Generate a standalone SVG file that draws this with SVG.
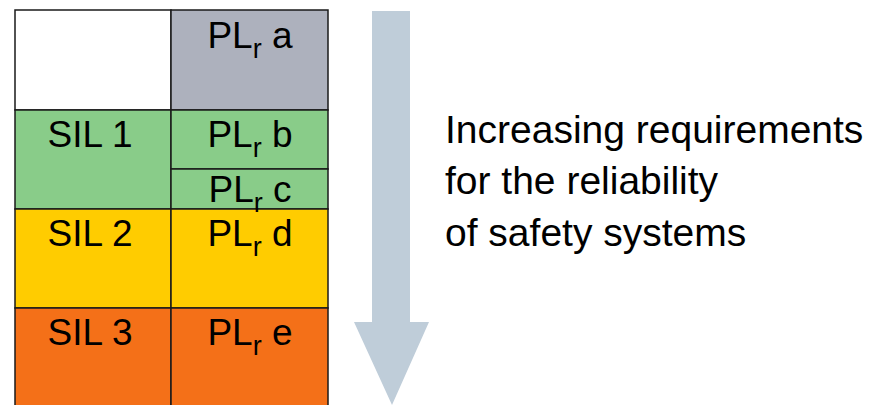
<svg xmlns="http://www.w3.org/2000/svg" width="873" height="405" viewBox="0 0 873 405">
<style>
.cell{stroke:#1a1a1a;stroke-width:1.5}
.t{font-family:"Liberation Sans",Arial,sans-serif;font-size:37px;fill:#000;text-anchor:middle}
.sub{font-size:27px}
.note{font-family:"Liberation Sans",Arial,sans-serif;font-size:39px;fill:#000}
</style>
<rect width="873" height="405" fill="#fff"/>
<g id="connectors">
<polygon points="372,11 410,11 410,322 429,322 392,405 354,322 372,322" fill="#bfcdd9"/>
</g>
<g id="cell-empty"><rect class="cell" x="15" y="10" width="156" height="100" fill="#fff"/></g>
<g id="cell-pla"><rect class="cell" x="171" y="10" width="157" height="100" fill="#adb1bd"/>
<text class="t" x="250" y="48">PL<tspan class="sub" dy="10">r</tspan><tspan dy="-10"> a</tspan></text></g>
<g id="cell-sil1"><rect class="cell" x="15" y="110" width="156" height="99" fill="#89cc89"/>
<text class="t" x="90" y="147">SIL 1</text></g>
<g id="cell-plb"><rect class="cell" x="171" y="110" width="157" height="59" fill="#89cc89"/>
<text class="t" x="250" y="147">PL<tspan class="sub" dy="10">r</tspan><tspan dy="-10"> b</tspan></text></g>
<g id="cell-plc"><rect class="cell" x="171" y="169" width="157" height="40" fill="#89cc89"/></g>
<g id="cell-sil2"><rect class="cell" x="15" y="209" width="156" height="99" fill="#ffcc00"/>
<text class="t" x="90" y="246">SIL 2</text></g>
<g id="cell-pld"><rect class="cell" x="171" y="209" width="157" height="99" fill="#ffcc00"/>
<text class="t" x="250" y="246">PL<tspan class="sub" dy="10">r</tspan><tspan dy="-10"> d</tspan></text></g>
<g id="cell-sil3"><rect class="cell" x="15" y="308" width="156" height="100" fill="#f47018"/>
<text class="t" x="90" y="345">SIL 3</text></g>
<g id="cell-ple"><rect class="cell" x="171" y="308" width="157" height="100" fill="#f47018"/>
<text class="t" x="250" y="345">PL<tspan class="sub" dy="10">r</tspan><tspan dy="-10"> e</tspan></text></g>
<g id="label-plc"><text class="t" x="250" y="202">PL<tspan class="sub" dy="10">r</tspan><tspan dy="-10"> c</tspan></text></g>
<g id="note">
<text class="note" x="445" y="143">Increasing requirements</text>
<text class="note" x="445" y="194">for the reliability</text>
<text class="note" x="445" y="246">of safety systems</text>
</g>
</svg>
